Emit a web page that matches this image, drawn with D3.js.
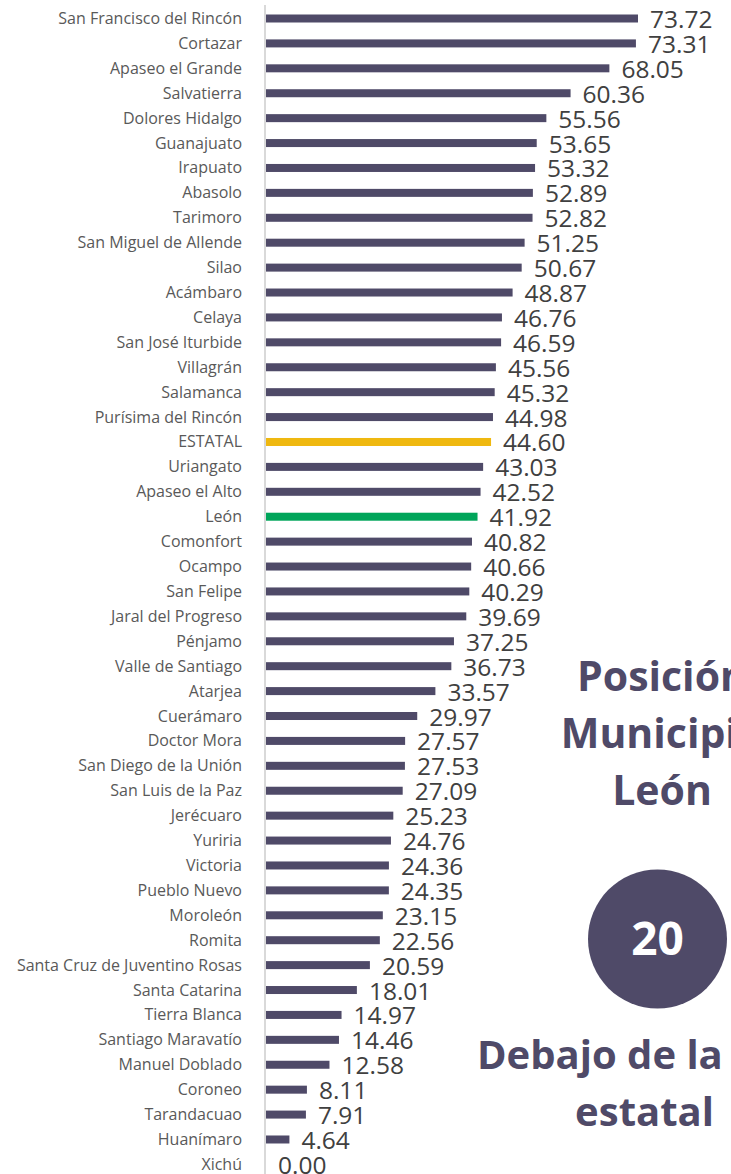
<!DOCTYPE html>
<html><head><meta charset="utf-8">
<script src="https://cdn.jsdelivr.net/npm/d3@7"></script>
<style>html,body{margin:0;padding:0;background:#fff;overflow:hidden}</style>
</head><body>
<script>
const categories = ["San Francisco del Rincón","Cortazar","Apaseo el Grande","Salvatierra","Dolores Hidalgo","Guanajuato","Irapuato","Abasolo","Tarimoro","San Miguel de Allende","Silao","Acámbaro","Celaya","San José Iturbide","Villagrán","Salamanca","Purísima del Rincón","ESTATAL","Uriangato","Apaseo el Alto","León","Comonfort","Ocampo","San Felipe","Jaral del Progreso","Pénjamo","Valle de Santiago","Atarjea","Cuerámaro","Doctor Mora","San Diego de la Unión","San Luis de la Paz","Jerécuaro","Yuriria","Victoria","Pueblo Nuevo","Moroleón","Romita","Santa Cruz de Juventino Rosas","Santa Catarina","Tierra Blanca","Santiago Maravatío","Manuel Doblado","Coroneo","Tarandacuao","Huanímaro","Xichú"];
const values = [73.72,73.31,68.05,60.36,55.56,53.65,53.32,52.89,52.82,51.25,50.67,48.87,46.76,46.59,45.56,45.32,44.98,44.60,43.03,42.52,41.92,40.82,40.66,40.29,39.69,37.25,36.73,33.57,29.97,27.57,27.53,27.09,25.23,24.76,24.36,24.35,23.15,22.56,20.59,18.01,14.97,14.46,12.58,8.11,7.91,4.64,0.00];
const highlightState = "ESTATAL";
const highlightMuni = "León";
const titleLines = ["Posición","Municipio","León"];
const rankValue = "20";
const noteLines = ["Debajo de la media","estatal"];

const W = 731, H = 1174;
const svg = d3.select("body").append("svg").attr("width", W).attr("height", H);

const x = d3.scaleLinear().domain([0, 80]).range([266, 266 + 80 * 5.046]);
const y = d3.scalePoint().domain(categories).range([18.5, 1164.4]);
const barH = 8;

const data = categories.map((c, i) => ({c, v: values[i]}));

svg.append("line").attr("x1", 265).attr("x2", 265).attr("y1", 5).attr("y2", H)
  .attr("stroke", "#d9d9d9").attr("stroke-width", 2);

svg.selectAll("rect.bar").data(data).join("rect").attr("class", "bar")
  .attr("x", x(0)).attr("y", d => y(d.c) - barH / 2)
  .attr("width", d => x(d.v) - x(0)).attr("height", barH)
  .attr("fill", d => d.c === highlightState ? "#EFB810" : d.c === highlightMuni ? "#00A55A" : "#4F4A68");

svg.selectAll("text.cat").data(data).join("text").attr("class", "cat")
  .attr("x", 242).attr("y", d => y(d.c) + 5.5)
  .attr("text-anchor", "end").attr("font-family", "Open Sans").attr("font-size", 16)
  .attr("fill", "#595959").text(d => d.c);

svg.selectAll("text.val").data(data).join("text").attr("class", "val")
  .attr("x", d => x(d.v) + 12).attr("y", d => y(d.c) + 9.5)
  .attr("font-family", "Open Sans").attr("font-size", 24.5)
  .attr("fill", "#404040").text(d => d3.format(".2f")(d.v));

const tc = "#4F4A68";
svg.selectAll("text.title").data(titleLines).join("text").attr("class", "title")
  .attr("x", 662).attr("y", (d, i) => 691 + i * 57)
  .attr("text-anchor", "middle").attr("font-family", "Open Sans").attr("font-weight", "bold")
  .attr("font-size", 41).attr("fill", tc).text(d => d);

svg.append("circle").attr("cx", 657.5).attr("cy", 939).attr("r", 69.5).attr("fill", tc);
svg.append("text").attr("x", 657.5).attr("y", 955).attr("text-anchor", "middle")
  .attr("font-family", "Open Sans").attr("font-weight", "bold").attr("font-size", 46)
  .attr("fill", "#fff").text(rankValue);

svg.append("clipPath").attr("id", "noteClip").append("rect")
  .attr("x", 0).attr("y", 0).attr("width", 726).attr("height", H);

svg.append("g").attr("clip-path", "url(#noteClip)")
  .selectAll("text.note").data(noteLines).join("text").attr("class", "note")
  .attr("x", (d, i) => i === 0 ? 477 : 644.5).attr("y", (d, i) => 1069 + i * 57)
  .attr("text-anchor", (d, i) => i === 0 ? "start" : "middle")
  .attr("font-family", "Open Sans").attr("font-weight", "bold")
  .attr("font-size", 40).attr("fill", tc).text(d => d);
</script>
</body></html>
